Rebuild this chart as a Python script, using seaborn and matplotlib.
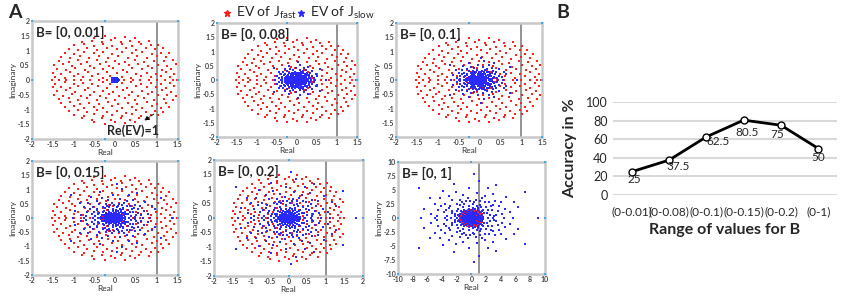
import numpy as np
import pandas as pd
import matplotlib
matplotlib.use("Agg")
import matplotlib.pyplot as plt
import seaborn as sns
from matplotlib.lines import Line2D

# -------------------------
# Data
# -------------------------
# eigenvalues of J_fast (upper half plane; conjugates mirrored below)
fast_re = [-1.45, -1.22, -1.0, -0.78, -0.55, -0.3, -0.12, 0.15, 0.38, 0.62, 0.85, 1.1, 1.32,
           -1.5, -1.3, -1.08, -0.9, -0.66, -0.42, -0.2, 0.05, 0.28, 0.5, 0.75, 0.98, 1.22, 1.42,
           -1.4, -1.18, -0.96, -0.72, -0.5, -0.3, -0.06, 0.18, 0.4, 0.63, 0.88, 1.12, 1.35,
           -1.47, -1.25, -1.03, -0.82, -0.6, -0.37, -0.15, 0.08, 0.32, 0.55, 0.78, 1.02, 1.25, 1.45,
           -1.36, -1.12, -0.9, -0.67, -0.45, -0.22, 0.0, 0.24, 0.47, 0.7, 0.94, 1.17, 1.38,
           -1.3, -1.08, -0.85, -0.62, -0.4, -0.17, 0.06, 0.3, 0.53, 0.76, 1.0, 1.22,
           -1.22, -0.98, -0.76, -0.52, -0.3, -0.07, 0.17, 0.4, 0.63, 0.87, 1.1, 1.28,
           -1.12, -0.9, -0.67, -0.44, -0.2, 0.03, 0.26, 0.5, 0.73, 0.96, 1.15,
           -0.98, -0.75, -0.52, -0.3, -0.07, 0.16, 0.4, 0.62, 0.85, 1.03,
           -0.8, -0.56, -0.32, -0.1, 0.13, 0.36, 0.58, 0.8,
           -0.5, -0.25, 0.0, 0.24, 0.47]
fast_im = [0.12, 0.08, 0.14, 0.1, 0.13, 0.07, 0.15, 0.11, 0.08, 0.14, 0.09, 0.13, 0.1,
           0.25, 0.22, 0.27, 0.2, 0.26, 0.21, 0.28, 0.23, 0.27, 0.2, 0.25, 0.22, 0.28, 0.2,
           0.38, 0.35, 0.41, 0.34, 0.4, 0.36, 0.42, 0.35, 0.41, 0.36, 0.4, 0.34, 0.39,
           0.5, 0.53, 0.48, 0.55, 0.49, 0.54, 0.47, 0.53, 0.5, 0.55, 0.47, 0.52, 0.49, 0.54,
           0.64, 0.61, 0.67, 0.62, 0.68, 0.6, 0.66, 0.62, 0.68, 0.61, 0.66, 0.63, 0.67,
           0.78, 0.75, 0.81, 0.76, 0.82, 0.74, 0.8, 0.76, 0.82, 0.75, 0.8, 0.77,
           0.92, 0.89, 0.95, 0.9, 0.96, 0.88, 0.94, 0.9, 0.96, 0.89, 0.93, 0.9,
           1.05, 1.02, 1.08, 1.03, 1.09, 1.04, 1.1, 1.03, 1.08, 1.04, 1.07,
           1.18, 1.22, 1.16, 1.21, 1.17, 1.23, 1.16, 1.21, 1.18, 1.2,
           1.3, 1.34, 1.29, 1.35, 1.3, 1.34, 1.29, 1.33,
           1.43, 1.48, 1.42, 1.47, 1.41]
fast_real_axis = [-1.52, -1.35, -1.18, -1.0, -0.82, -0.6, -0.38, -0.2, 0.22, 0.42, 0.6, 0.8,
                  1.0, 1.2, 1.38, 1.48]

# eigenvalues of J_slow for B = [0, 1] (upper half plane)
slow_re = [0.02, 0.12, -0.1, 0.25, -0.22, 0.05, 0.3, -0.35, -0.05, 0.18, -0.28, 0.45, 0.42,
           -0.48, 0.08, -0.18, 0.3, 0.6, -0.6, 0.55, -0.42, 0.0, 0.72, -0.75, 0.2, -0.3, 0.68,
           -0.65, 0.85, -0.88, 0.45, -0.1, 0.95, -1.0, 0.25, -0.5, 0.9, -0.9, 1.15, -1.15, 0.6,
           -0.15, 1.25, -1.3, 0.1, -0.7, 1.1, -1.2, 1.45, -1.5, 0.5, -0.4, 1.6, -1.65, 0.9,
           -1.0, 1.4, -1.45, 0.15, 1.75, -1.8,
           -2.3, 2.1, -1.6, 0.4, -0.8, 1.9, 2.6, -2.9, -3.4, 3.6, -2.0, 1.3, -1.3, 0.7, 3.1,
           -2.7, 2.3, -0.2, 1.1, -4.1,
           -7.1, 7.3, 0.3, 1.0, -2.4, -0.4, 2.2, 3.4, -3.9, -2.1, 4.7, -5.6, -4.3, 6.4, -6.4,
           -3.0, -1.2, 0.8, 1.8, 2.9, 4.0, 3.2, -5.0, -4.6, -3.6, -2.6, -1.5, -0.5, 0.6, 1.4,
           2.4, 3.7, 4.6, 5.3, 5.8, -5.5, -3.0, -2.0, -3.8, -2.6, 0.2, 1.2, 2.0, 2.8, 3.3, 4.1,
           -4.7, -1.0, -1.8, -2.2, 2.5, 1.6, -0.3, 0.9, -1.2, 3.0, -3.3]
slow_im = [0.05, 0.1, 0.08, 0.04, 0.15, 0.22, 0.2, 0.05, 0.35, 0.38, 0.3, 0.12, 0.33,
           0.22, 0.5, 0.52, 0.55, 0.25, 0.38, 0.5, 0.55, 0.68, 0.08, 0.12, 0.75, 0.78, 0.7,
           0.7, 0.4, 0.45, 0.9, 0.95, 0.15, 0.2, 1.05, 1.0, 0.8, 0.85, 0.45, 0.5, 1.15,
           1.25, 0.1, 0.15, 1.4, 1.25, 1.1, 1.0, 0.6, 0.7, 1.55, 1.6, 0.25, 0.35, 1.45,
           1.5, 1.2, 1.25, 1.8, 0.9, 0.6,
           0.3, 0.9, 2.4, 2.9, 3.0, 2.9, 2.1, 2.2, 1.4, 1.2, 1.3, 2.0, 2.8, 2.2, 0.3,
           0.9, 1.5, 3.0, 3.0, 2.2,
           5.4, 4.7, 7.9, 6.7, 6.0, 5.4, 5.3, 5.9, 4.8, 4.7, 3.8, 3.5, 3.5, 2.0, 1.7,
           3.9, 4.2, 4.5, 4.0, 4.3, 2.9, 3.1, 2.6, 1.5, 2.6, 3.2, 3.3, 3.6, 3.3, 3.5,
           2.8, 2.1, 1.6, 1.0, 2.8, 0.8, 1.8, 2.5, 1.0, 1.2, 2.6, 2.4, 1.9, 1.4, 0.6, 0.8,
           0.4, 2.6, 1.7, 0.7, 0.5, 1.4, 2.2, 1.8, 1.9, 2.4, 0.4]
slow_real_axis = [-6.8, -5.0, -3.6, -2.8, -1.9, -1.4, -0.9, -0.55, -0.25, 0.0, 0.2, 0.5,
                  0.8, 1.1, 1.5, 2.2, 3.0, 4.4, 5.6, 9.1]

b_max = [0.01, 0.08, 0.1, 0.15, 0.2, 1]
panel_titles = ["B= [0, 0.01]", "B= [0, 0.08]", "B= [0, 0.1]",
                "B= [0, 0.15]", "B= [0, 0.2]", "B= [0, 1]"]
panel_xlim = [(-2, 1.5), (-2, 1.5), (-2, 1.5), (-2, 1.5), (-2, 2), (-10, 10)]
panel_ylim = [(-2, 2), (-2, 2), (-2, 2), (-2, 2), (-2, 2), (-10, 10)]

ranges = ["(0-0.01)", "(0-0.08)", "(0-0.1)", "(0-0.15)", "(0-0.2)", "(0-1)"]
accuracy = [25, 37.5, 62.5, 80.5, 75, 50]

# full conjugate-symmetric sets
fast = pd.DataFrame({
    "re": fast_re + fast_re + fast_real_axis,
    "im": fast_im + [-v for v in fast_im] + [0.0] * len(fast_real_axis),
})
slow_base = pd.DataFrame({
    "re": slow_re + slow_re + slow_real_axis,
    "im": slow_im + [-v for v in slow_im] + [0.0] * len(slow_real_axis),
})

# -------------------------
# Figure
# -------------------------
sns.set_style("white")
plt.rcParams["font.family"] = ["Lato", "DejaVu Sans"]
plt.rcParams["mathtext.default"] = "regular"

fig = plt.figure(figsize=(8.52, 2.96), dpi=100)

boxes = [[0.0376, 0.530, 0.171, 0.399], [0.2547, 0.537, 0.1643, 0.385],
         [0.4648, 0.537, 0.1714, 0.385], [0.0376, 0.071, 0.171, 0.385],
         [0.2512, 0.0676, 0.1749, 0.392], [0.4671, 0.0743, 0.1725, 0.378]]

RED = "#ff1f1f"
BLUE = "#2a2aff"
fmt = lambda v: f"{v:g}"

for i, box in enumerate(boxes):
    ax = fig.add_axes(box)
    slow = slow_base * b_max[i]
    sns.scatterplot(data=fast, x="re", y="im", ax=ax, color=RED, marker="s",
                    s=3.5, linewidth=0, zorder=2)
    sns.scatterplot(data=slow, x="re", y="im", ax=ax, color=BLUE, marker="s",
                    s=3.5, linewidth=0, zorder=3)
    ax.axvline(1, color="#8a8a8a", lw=1.3, zorder=1)
    x0, x1 = panel_xlim[i]
    y0, y1 = panel_ylim[i]
    ax.set_xlim(x0, x1)
    ax.set_ylim(y0, y1)
    if i == 5:
        xt = np.arange(-10, 10.1, 2)
        yt = np.arange(-10, 10.1, 2.5)
    else:
        xt = np.arange(x0, x1 + 0.01, 0.5)
        yt = np.arange(-2, 2.01, 0.5)
    ax.set_xticks(xt)
    ax.set_xticklabels([fmt(v) for v in xt])
    ax.set_yticks(yt)
    ax.set_yticklabels([fmt(v) for v in yt])
    ax.tick_params(labelsize=5, colors="#444444", length=2, width=0.5,
                   direction="in", pad=1.5)
    for lab in ax.get_xticklabels() + ax.get_yticklabels():
        lab.set_fontweight("bold")
    for sp in ax.spines.values():
        sp.set_color("#c8c8c8")
        sp.set_linewidth(1.8)
    ax.set_xlabel("Real", fontsize=6, labelpad=0.5, color="#333333")
    ax.set_ylabel("Imaginary", fontsize=6, labelpad=1, color="#333333")
    # small cyan markers on the frame (corners and mid-edges)
    xm, ym = (x0 + x1) / 2, (y0 + y1) / 2
    ax.scatter([x0, xm, x1, x0, x1, x0, xm, x1], [y1, y1, y1, ym, ym, y0, y0, y0],
               s=2.5, color="#4ea8de", marker="s", clip_on=False, zorder=5, linewidths=0)
    ax.text(0.03, 0.96, panel_titles[i], transform=ax.transAxes, ha="left", va="top",
            fontsize=9.5, fontweight="bold", zorder=6)
    if i == 0:
        ax.annotate("Re(EV)=1", xy=(0.64, -1.42), xytext=(0.42, -1.72),
                    ha="center", va="center", fontsize=9, fontweight="bold",
                    annotation_clip=False)
        ax.annotate("", xy=(0.64, -1.42), xytext=(0.98, -1.1),
                    arrowprops=dict(arrowstyle="-|>", ls="--", lw=0.7, color="k",
                                    mutation_scale=6))

# legend at top
fig.add_artist(Line2D([227 / 852], [1 - 13 / 296], transform=fig.transFigure,
                      marker="*", color=RED, ms=5, ls="none"))
fig.text(236 / 852, 1 - 13 / 296, "EV of J$_{fast}$", fontsize=10, va="center")
fig.add_artist(Line2D([301 / 852], [1 - 13 / 296], transform=fig.transFigure,
                      marker="*", color=BLUE, ms=5, ls="none"))
fig.text(310 / 852, 1 - 13 / 296, "EV of J$_{slow}$", fontsize=10, va="center")

fig.text(8 / 852, 1 - 13 / 296, "A", fontsize=14, fontweight="bold", va="center")
fig.text(556 / 852, 1 - 13 / 296, "B", fontsize=14, fontweight="bold", va="center")

# -------------------------
# Panel B: accuracy vs range of B
# -------------------------
axb = fig.add_axes([0.7195, 0.3412, 0.2629, 0.3142])
acc_df = pd.DataFrame({"range": ranges, "acc": accuracy})
sns.lineplot(data=acc_df, x="range", y="acc", ax=axb, sort=False, color="k", lw=2,
             marker="o", markersize=5, markerfacecolor="white",
             markeredgecolor="k", markeredgewidth=1, zorder=3)
axb.set_ylim(0, 100)
axb.set_xlim(-0.5, len(ranges) - 0.5)
axb.set_yticks(range(0, 101, 20))
axb.yaxis.grid(True, color="#d9d9d9", lw=1.5)
axb.set_axisbelow(True)
for sp in axb.spines.values():
    sp.set_visible(False)
axb.tick_params(axis="both", length=0, labelsize=9, pad=4)
axb.tick_params(axis="x", labelsize=8.5, pad=8)
axb.set_xlabel("Range of values for B", fontsize=11.5, fontweight="bold", labelpad=4)
axb.set_ylabel("Accuracy in %", fontsize=11.5, fontweight="bold", labelpad=6)

label_offsets = [(3, -8), (9, -6), (12, -5), (3, -12), (-4, -9), (0, -9)]
for k, (cat, val) in enumerate(zip(ranges, accuracy)):
    dx, dy = label_offsets[k]
    axb.annotate(fmt(val), xy=(k, val), xytext=(dx * 0.72, dy * 0.72),
                 textcoords="offset points", ha="center", va="center", fontsize=8.5)

fig.savefig("out.png", dpi=100)
